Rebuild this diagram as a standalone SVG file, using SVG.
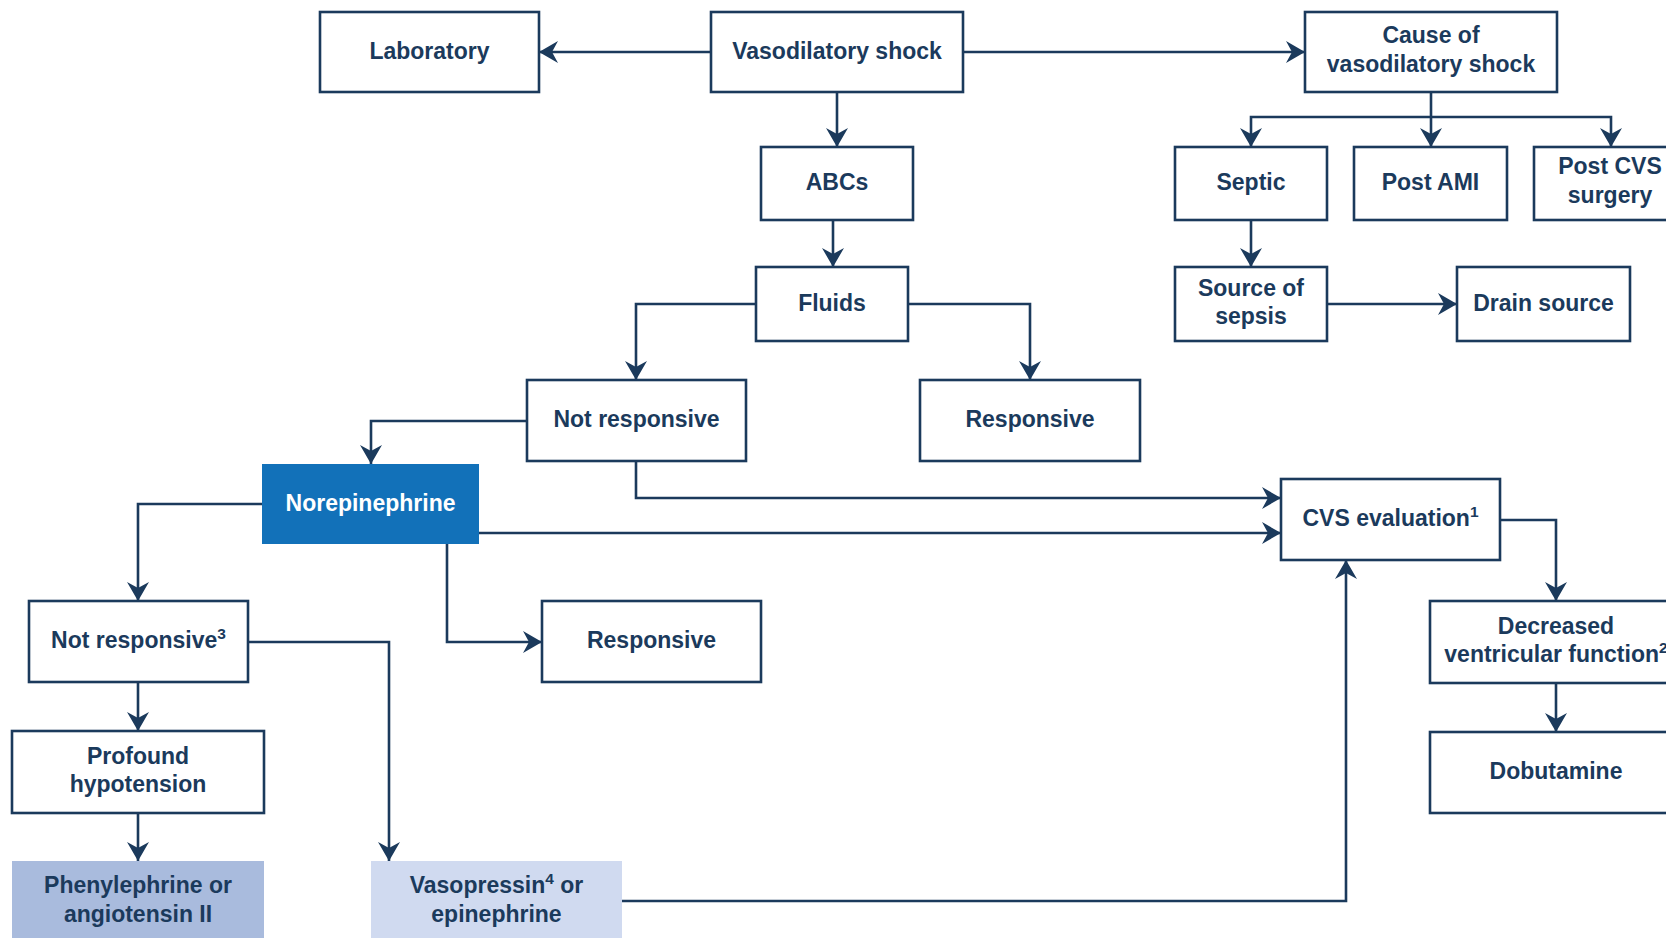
<svg xmlns="http://www.w3.org/2000/svg" width="1666" height="938" viewBox="0 0 1666 938">
  <style>
    .box { fill: #ffffff; stroke: #1b3a5c; stroke-width: 2.6; }
    .nor { fill: #1271b9; }
    .phen { fill: #a9bbdd; }
    .vaso { fill: #d0daf0; }
    .lbl { font-family: "Liberation Sans", Arial, sans-serif; font-weight: bold; font-size: 23px; fill: #1b3a5c; text-anchor: middle; }
    .wht { fill: #ffffff; }
    .sup { font-size: 15.5px; }
    .conn path { fill: none; stroke: #1b3a5c; stroke-width: 2.6; marker-end: url(#arrow); }
  </style>
  <defs>
    <marker id="arrow" markerUnits="userSpaceOnUse" markerWidth="22" markerHeight="24" viewBox="-21 -12 22 24" refX="0" refY="0" orient="auto">
      <path d="M0,0 L-19,-11 L-13,0 L-19,11 Z" fill="#1b3a5c"/>
    </marker>
  </defs>
  <rect width="1666" height="938" fill="#ffffff"/>

  <!-- connectors -->
  <g id="connectors" class="conn">
    <path d="M711,52 H539"/>
    <path d="M963,52 H1305"/>
    <path d="M837,92 V147"/>
    <path d="M833,220 V267"/>
    <path d="M1431,92 V147"/>
    <path d="M1431,117 H1251 V147"/>
    <path d="M1431,117 H1611 V147"/>
    <path d="M1251,220 V267"/>
    <path d="M1327,304 H1457"/>
    <path d="M756,304 H636 V380"/>
    <path d="M908,304 H1030 V380"/>
    <path d="M527,421 H371 V464"/>
    <path d="M636,461 V498 H1281"/>
    <path d="M479,533 H1281"/>
    <path d="M262,504 H138 V601"/>
    <path d="M447,544 V642 H542"/>
    <path d="M138,682 V731"/>
    <path d="M248,642 H389 V861"/>
    <path d="M138,813 V861"/>
    <path d="M622,901 H1346 V560"/>
    <path d="M1500,520 H1556 V601"/>
    <path d="M1556,683 V732"/>
  </g>

  <!-- nodes -->
  <g id="laboratory">
    <rect class="box" x="320" y="12" width="219" height="80"/>
    <text class="lbl" x="429.5" y="58.5">Laboratory</text>
  </g>
  <g id="vasodilatory-shock">
    <rect class="box" x="711" y="12" width="252" height="80"/>
    <text class="lbl" x="837" y="58.5">Vasodilatory shock</text>
  </g>
  <g id="cause">
    <rect class="box" x="1305" y="12" width="252" height="80"/>
    <text class="lbl" x="1431" y="42.5">Cause of</text>
    <text class="lbl" x="1431" y="71.5">vasodilatory shock</text>
  </g>
  <g id="abcs">
    <rect class="box" x="761" y="147" width="152" height="73"/>
    <text class="lbl" x="837" y="190">ABCs</text>
  </g>
  <g id="septic">
    <rect class="box" x="1175" y="147" width="152" height="73"/>
    <text class="lbl" x="1251" y="190">Septic</text>
  </g>
  <g id="post-ami">
    <rect class="box" x="1354" y="147" width="153" height="73"/>
    <text class="lbl" x="1430.5" y="190">Post AMI</text>
  </g>
  <g id="post-cvs-surgery">
    <rect class="box" x="1534" y="147" width="152" height="73"/>
    <text class="lbl" x="1610" y="173.5">Post CVS</text>
    <text class="lbl" x="1610" y="202.5">surgery</text>
  </g>
  <g id="source-of-sepsis">
    <rect class="box" x="1175" y="267" width="152" height="74"/>
    <text class="lbl" x="1251" y="295.5">Source of</text>
    <text class="lbl" x="1251" y="323.5">sepsis</text>
  </g>
  <g id="drain-source">
    <rect class="box" x="1457" y="267" width="173" height="74"/>
    <text class="lbl" x="1543.5" y="310.5">Drain source</text>
  </g>
  <g id="fluids">
    <rect class="box" x="756" y="267" width="152" height="74"/>
    <text class="lbl" x="832" y="310.5">Fluids</text>
  </g>
  <g id="not-responsive-fluids">
    <rect class="box" x="527" y="380" width="219" height="81"/>
    <text class="lbl" x="636.5" y="427">Not responsive</text>
  </g>
  <g id="responsive-fluids">
    <rect class="box" x="920" y="380" width="220" height="81"/>
    <text class="lbl" x="1030" y="427">Responsive</text>
  </g>
  <g id="norepinephrine">
    <rect class="nor" x="262" y="464" width="217" height="80"/>
    <text class="lbl wht" x="370.5" y="510.5">Norepinephrine</text>
  </g>
  <g id="cvs-evaluation">
    <rect class="box" x="1281" y="479" width="219" height="81"/>
    <text class="lbl" x="1390.5" y="526">CVS evaluation<tspan class="sup" dy="-9">1</tspan></text>
  </g>
  <g id="not-responsive-nor">
    <rect class="box" x="29" y="601" width="219" height="81"/>
    <text class="lbl" x="138.5" y="648">Not responsive<tspan class="sup" dy="-9">3</tspan></text>
  </g>
  <g id="responsive-nor">
    <rect class="box" x="542" y="601" width="219" height="81"/>
    <text class="lbl" x="651.5" y="648">Responsive</text>
  </g>
  <g id="decreased-ventricular-function">
    <rect class="box" x="1430" y="601" width="252" height="82"/>
    <text class="lbl" x="1556" y="633.5">Decreased</text>
    <text class="lbl" x="1556" y="662">ventricular function<tspan class="sup" dy="-9">2</tspan></text>
  </g>
  <g id="dobutamine">
    <rect class="box" x="1430" y="732" width="252" height="81"/>
    <text class="lbl" x="1556" y="779">Dobutamine</text>
  </g>
  <g id="profound-hypotension">
    <rect class="box" x="12" y="731" width="252" height="82"/>
    <text class="lbl" x="138" y="763.5">Profound</text>
    <text class="lbl" x="138" y="791.5">hypotension</text>
  </g>
  <g id="phenylephrine">
    <rect class="phen" x="12" y="861" width="252" height="81"/>
    <text class="lbl" x="138" y="893">Phenylephrine or</text>
    <text class="lbl" x="138" y="921.5">angiotensin II</text>
  </g>
  <g id="vasopressin">
    <rect class="vaso" x="371" y="861" width="251" height="81"/>
    <text class="lbl" x="496.5" y="893">Vasopressin<tspan class="sup" dy="-9">4</tspan><tspan dy="9"> or</tspan></text>
    <text class="lbl" x="496.5" y="921.5">epinephrine</text>
  </g>
</svg>
